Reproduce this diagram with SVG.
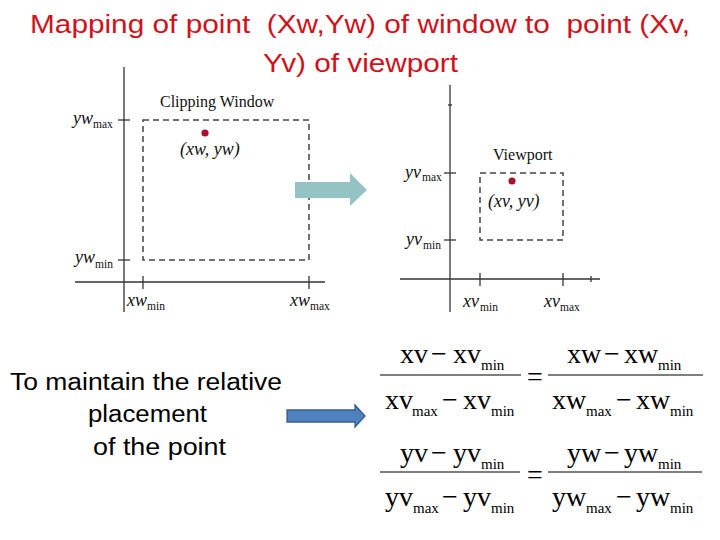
<svg xmlns="http://www.w3.org/2000/svg" width="720" height="540" viewBox="0 0 720 540">
<style>
.title{font-family:"Liberation Sans",Arial,sans-serif;font-size:26px;fill:#d0121b;white-space:pre}
.body{font-family:"Liberation Sans",Arial,sans-serif;font-size:23px;fill:#000;white-space:pre}
.ax{stroke:#333;stroke-width:1.3;fill:none}
.dash{stroke:#444;stroke-width:1.5;fill:none;stroke-dasharray:6 4}
.it{font-family:"Liberation Serif","Times New Roman",serif;font-style:italic;font-size:18px;fill:#111}
.sub{font-family:"Liberation Serif","Times New Roman",serif;font-size:11.5px;fill:#111}
.lbl{font-family:"Liberation Serif","Times New Roman",serif;font-size:16px;fill:#111}
.eq{font-family:"Liberation Serif","Times New Roman",serif;font-size:28px;fill:#000}
.es{font-family:"Liberation Serif","Times New Roman",serif;font-size:15px;fill:#000}
.fr{stroke:#000;stroke-width:1.2}
.dot{fill:#a8102e}
</style>
<rect width="720" height="540" fill="#fff"/>
<g id="title">
<text class="title" x="30" y="33" textLength="660" lengthAdjust="spacingAndGlyphs">Mapping of point  (Xw,Yw) of window to  point (Xv,</text>
<text class="title" x="263" y="72" textLength="195" lengthAdjust="spacingAndGlyphs">Yv) of viewport</text>
</g>
<g id="clipping-window">
<line class="ax" x1="124" y1="67" x2="124" y2="312"/>
<line class="ax" x1="75" y1="282" x2="325" y2="282"/>
<line class="ax" x1="118" y1="120" x2="130" y2="120"/>
<line class="ax" x1="118" y1="260" x2="130" y2="260"/>
<line class="ax" x1="143" y1="276" x2="143" y2="289"/>
<line class="ax" x1="309" y1="276" x2="309" y2="289"/>
<rect class="dash" x="143" y="120" width="166" height="140"/>
<text class="lbl" x="160" y="107">Clipping Window</text>
<circle class="dot" cx="205" cy="133" r="3.6"/>
<text class="it" x="180" y="155" font-size="17">(xw, yw)</text>
<text class="it" x="73" y="124">yw</text><text class="sub" x="93" y="128">max</text>
<text class="it" x="75" y="263">yw</text><text class="sub" x="95" y="268">min</text>
<text class="it" x="127" y="306">xw</text><text class="sub" x="147" y="310">min</text>
<text class="it" x="290" y="306">xw</text><text class="sub" x="310" y="310">max</text>
</g>
<g id="viewport">
<line class="ax" x1="450" y1="85" x2="450" y2="312"/>
<line class="ax" x1="400" y1="279" x2="600" y2="279"/>
<line class="ax" x1="448" y1="105" x2="452" y2="105"/>
<line class="ax" x1="591" y1="276" x2="591" y2="282"/>
<line class="ax" x1="444" y1="173" x2="456" y2="173"/>
<line class="ax" x1="444" y1="240" x2="456" y2="240"/>
<line class="ax" x1="480" y1="273" x2="480" y2="286"/>
<line class="ax" x1="563" y1="273" x2="563" y2="286"/>
<rect class="dash" x="480" y="173" width="83" height="67"/>
<text class="lbl" x="493" y="160" font-size="16.5">Viewport</text>
<circle class="dot" cx="512" cy="181" r="3.6"/>
<text class="it" x="488" y="207" font-size="17">(xv, yv)</text>
<text class="it" x="405" y="178">yv</text><text class="sub" x="422" y="181">max</text>
<text class="it" x="406" y="245">yv</text><text class="sub" x="423" y="249">min</text>
<text class="it" x="463" y="307">xv</text><text class="sub" x="480" y="311">min</text>
<text class="it" x="544" y="307">xv</text><text class="sub" x="560" y="311">max</text>
</g>
<g id="caption">
<text class="body" x="10" y="390" textLength="272" lengthAdjust="spacingAndGlyphs">To maintain the relative</text>
<text class="body" x="88" y="422" textLength="119" lengthAdjust="spacingAndGlyphs">placement</text>
<text class="body" x="93" y="455" textLength="133" lengthAdjust="spacingAndGlyphs">of the point</text>
</g>
<g id="equation-x">
<text class="eq" x="400" y="363">xv</text><text class="eq" x="431" y="363">−</text><text class="eq" x="453" y="363">xv</text><text class="es" x="481" y="370">min</text>
<line class="fr" x1="380" y1="375" x2="521" y2="375"/>
<text class="eq" x="385" y="409">xv</text><text class="es" x="412" y="416">max</text><text class="eq" x="442" y="409">−</text><text class="eq" x="463" y="409">xv</text><text class="es" x="491" y="416">min</text>
<text class="eq" x="527" y="386" font-size="30">=</text>
<text class="eq" x="567" y="363">xw</text><text class="eq" x="604" y="363">−</text><text class="eq" x="624" y="363">xw</text><text class="es" x="658" y="370">min</text>
<line class="fr" x1="548" y1="375" x2="703" y2="375"/>
<text class="eq" x="552" y="409">xw</text><text class="es" x="586" y="416">max</text><text class="eq" x="616" y="409">−</text><text class="eq" x="636" y="409">xw</text><text class="es" x="670" y="416">min</text>
</g>
<g id="equation-y">
<text class="eq" x="400" y="462">yv</text><text class="eq" x="431" y="462">−</text><text class="eq" x="453" y="462">yv</text><text class="es" x="481" y="469">min</text>
<line class="fr" x1="380" y1="472" x2="520" y2="472"/>
<text class="eq" x="385" y="506">yv</text><text class="es" x="413" y="513">max</text><text class="eq" x="442" y="506">−</text><text class="eq" x="463" y="506">yv</text><text class="es" x="491" y="513">min</text>
<text class="eq" x="527" y="484" font-size="30">=</text>
<text class="eq" x="567" y="462">yw</text><text class="eq" x="604" y="462">−</text><text class="eq" x="624" y="462">yw</text><text class="es" x="658" y="469">min</text>
<line class="fr" x1="548" y1="472" x2="702" y2="472"/>
<text class="eq" x="552" y="506">yw</text><text class="es" x="586" y="513">max</text><text class="eq" x="616" y="506">−</text><text class="eq" x="636" y="506">yw</text><text class="es" x="670" y="513">min</text>
</g>
<g id="connectors">
<polygon points="295,182 350,182 350,173 367,190 350,206 350,198 295,198" fill="#93c3c4"/>
<polygon points="287,410 355,410 355,405 365,416 355,427 355,422 287,422" fill="#4f81bd" stroke="#385d8a" stroke-width="1.3"/>
</g>
</svg>
